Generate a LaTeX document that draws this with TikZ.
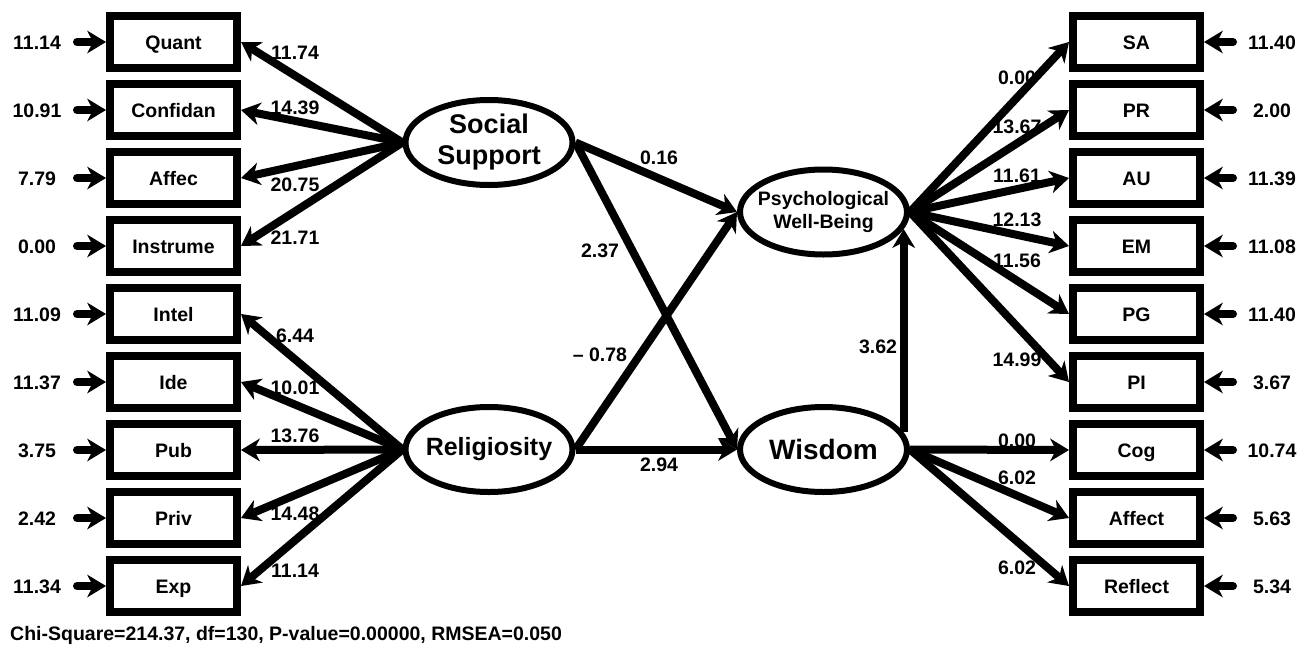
\documentclass[tikz,border=0pt]{standalone}
\usepackage{fontspec}
\setmainfont{Liberation Sans}
\usetikzlibrary{arrows.meta,shapes.geometric}
\begin{document}
\begin{tikzpicture}[x=1pt,y=-1pt,
  txt/.style={font=\fontsize{19.5}{22}\selectfont\bfseries, inner sep=0pt,
    text height=14pt, text depth=0pt},
  obs/.style={draw, line width=8pt, minimum width=127pt, minimum height=52pt,
    inner sep=0pt, font=\fontsize{19.5}{22}\selectfont\bfseries,
    text height=14pt, text depth=0pt},
  latent/.style={draw, ellipse, line width=6pt, minimum width=167pt,
    minimum height=85pt, inner sep=0pt},
  lattext/.style={align=center, inner sep=0pt},
  link/.style={line width=8pt,
    -{Stealth[length=19pt,width=23pt,inset=6pt,line width=0pt]}},
  errlink/.style={link, line cap=round},
]
\useasboundingbox (0,0) rectangle (1310,654);

% indicator boxes, left and right columns
\foreach \n/\y/\t in {L1/42/Quant, L2/110/Confidan, L3/178/Affec, L4/246/Instrume,
  L5/314/Intel, L6/382/Ide, L7/450/Pub, L8/518/Priv, L9/586/Exp}
  \node[obs] (\n) at (173.5,\y) {\t};
\foreach \n/\y/\t in {R1/42/SA, R2/110/PR, R3/178/AU, R4/246/EM,
  R5/314/PG, R6/382/PI, R7/450/Cog, R8/518/Affect, R9/586/Reflect}
  \node[obs] (\n) at (1136.5,\y) {\t};

% latent variables
\node[latent] (ss)  at (489,142.5) {};
\node[latent] (rel) at (489,449.5) {};
\node[latent] (pwb) at (823.5,212) {};
\node[latent] (wis) at (823.5,449.5) {};
\node[lattext, font=\fontsize{27}{31}\selectfont\bfseries] (sst) at (ss) {Social\\Support};
\node[lattext, font=\fontsize{25}{30}\selectfont\bfseries] (relt) at (rel) {Religiosity};
\node[lattext, font=\fontsize{19.5}{23}\selectfont\bfseries] (pwbt) at (pwb) {Psychological\\Well-Being};
\node[lattext, font=\fontsize{28}{32}\selectfont\bfseries] (wist) at (wis) {Wisdom};

% measurement paths
\foreach \i in {1,2,3,4} \draw[link] (ss.west) -- (L\i.east);
\foreach \i in {5,6,7,8,9} \draw[link] (rel.west) -- (L\i.east);
\foreach \i in {1,2,3,4,5,6} \draw[link] (pwb.east) -- (R\i.west);
\foreach \i in {7,8,9} \draw[link] (wis.east) -- (R\i.west);

% structural paths
\draw[link] (ss.east) -- (pwb.west);
\draw[link] (ss.east) -- (wis.west);
\draw[link] (rel.east) -- (pwb.west);
\draw[link] (rel.east) -- (wis.west);
\draw[link] (wis.12) -- (pwb.-12);

% error terms
\foreach \i in {1,...,9} {
  \coordinate (eL\i) at ([xshift=-29pt]L\i.west);
  \coordinate (eR\i) at ([xshift=29pt]R\i.east);
  \draw[errlink] (eL\i) -- (L\i.west);
  \draw[errlink] (eR\i) -- (R\i.east);
}

% error variances
\foreach \n/\y/\t in {vL1/42/11.14, vL2/110/10.91, vL3/178/7.79, vL4/246/0.00,
  vL5/314/11.09, vL6/382/11.37, vL7/450/3.75, vL8/518/2.42, vL9/586/11.34}
  \node[txt] (\n) at (37,\y) {\t};
\foreach \n/\y/\t in {vR1/42/11.40, vR2/110/2.00, vR3/178/11.39, vR4/246/11.08,
  vR5/314/11.40, vR6/382/3.67, vR7/450/10.74, vR8/518/5.63, vR9/586/5.34}
  \node[txt] (\n) at (1272,\y) {\t};

% path coefficients
\foreach \n/\x/\y/\t in {cL1/295/52/11.74, cL2/295/107/14.39, cL3/295/184/20.75,
  cL4/295/237/21.71, cL5/295/335/6.44, cL6/295/387/10.01, cL7/295/435/13.76,
  cL8/295/513/14.48, cL9/295/570/11.14,
  cR1/1017/77/0.00, cR2/1017/126/13.67, cR3/1017/175/11.61, cR4/1017/219/12.13,
  cR5/1017/260/11.56, cR6/1017/359/14.99, cR7/1017/440/0.00, cR8/1017/477/6.02,
  cR9/1017/567/6.02,
  s1/659/157/0.16, s2/600/250/2.37, s3/600/354/– 0.78, s4/659/464/2.94,
  s5/878/346/3.62}
  \node[txt] (\n) at (\x,\y) {\t};

% fit statistics
\node[txt, anchor=west] (fit) at (10,633)
  {Chi-Square=214.37, df=130, P-value=0.00000, RMSEA=0.050};
\end{tikzpicture}
\end{document}
